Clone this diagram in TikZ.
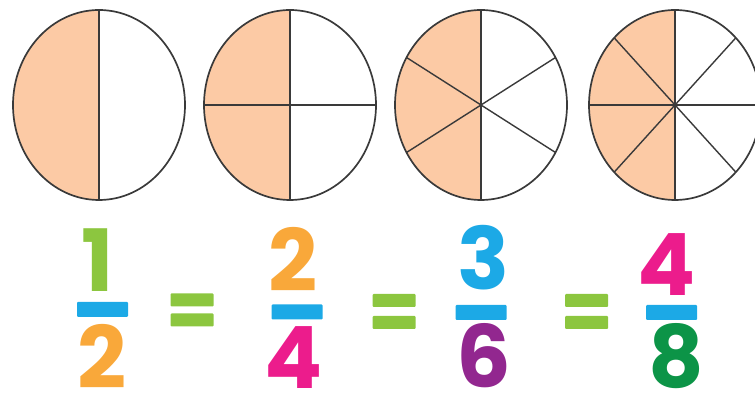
\documentclass[tikz,border=0pt]{standalone}
\usepackage{fontspec}
\newfontfamily\numfont{Poppins}
\usetikzlibrary{calc}
\definecolor{peach}{HTML}{FCCAA5}
\definecolor{rimgray}{HTML}{3A3A3A}
\definecolor{limegreen}{HTML}{8CC63F}
\definecolor{skyblue}{HTML}{1CA9E6}
\definecolor{tangerine}{HTML}{F9A83A}
\definecolor{hotpink}{HTML}{EC1C8C}
\definecolor{grape}{HTML}{92278F}
\definecolor{forest}{HTML}{0C9447}

\begin{document}
\begin{tikzpicture}[x=1pt,y=1pt,
  rim/.style={draw=rimgray,line width=1.7pt},
  spoke/.style={draw=rimgray,line width=1.4pt},
  digit/.style={inner sep=0pt,anchor=base,text depth=0pt,font=\numfont\bfseries\fontsize{86}{86}\selectfont},
  fracbar/.style={fill=skyblue,minimum width=51pt,minimum height=15pt,inner sep=0pt,rounded corners=1pt},
  eqbar/.style={fill=limegreen,minimum width=43pt,minimum height=13pt,inner sep=0pt,rounded corners=1pt}]
\useasboundingbox (0,0) rectangle (755,396);
% pies: left half shaded, then spokes, then rim
\foreach \n/\cx/\angs in {1/99/{90,270},2/290/{0,90,180,270},3/481/{30,90,150,210,270,330},4/675/{0,45,...,315}}{
  \coordinate (c\n) at (\cx,291);
  \fill[peach] (c\n) ++(0,95) arc[start angle=90,end angle=270,x radius=86pt,y radius=95pt] -- cycle;
  \foreach \a in \angs \draw[spoke] (c\n) -- ++(\a:86pt and 95pt);
  \draw[rim] (c\n) ellipse[x radius=86pt,y radius=95pt];
}
%
% fractions
\node[digit,text=limegreen] (n1) at (98,104) {1};
\node[fracbar] (b1) at (102.5,86.5) {};
\node[digit,text=tangerine] (d1) at (102,7) {2};
%
\node[digit,text=tangerine] (n2) at (293,104) {2};
\node[fracbar] (b2) at (297,84) {};
\node[digit,text=hotpink] (d2) at (294,7) {4};
%
\node[digit,text=skyblue] (n3) at (484,106) {3};
\node[fracbar] (b3) at (481,83.5) {};
\node[digit,text=grape] (d3) at (484,8) {6};
%
\node[digit,text=hotpink] (n4) at (667,100) {4};
\node[fracbar] (b4) at (671.5,83.5) {};
\node[digit,text=forest] (d4) at (676,8) {8};
%
% equals signs
\node[eqbar] (e1t) at (192,96) {};
\node[eqbar] (e1b) at (192,76) {};
\node[eqbar] (e2t) at (394,95.5) {};
\node[eqbar] (e2b) at (394,73.5) {};
\node[eqbar] (e3t) at (586.5,95.5) {};
\node[eqbar] (e3b) at (586.5,73.5) {};
\end{tikzpicture}
\end{document}
